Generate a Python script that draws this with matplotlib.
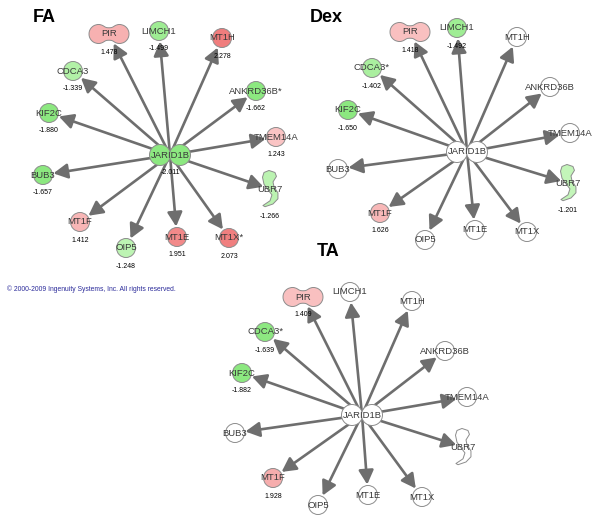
import numpy as np
import matplotlib
matplotlib.use('Agg')
import matplotlib.pyplot as plt
from matplotlib.patches import Circle, Polygon, FancyArrowPatch

# genes in every network, hub first
genes = ['JARID1B', 'PIR', 'LIMCH1', 'MT1H', 'CDCA3', 'ANKRD36B', 'KIF2C',
         'TMEM14A', 'BUB3', 'UBR7', 'MT1F', 'OIP5', 'MT1E', 'MT1X']

fa_labels = ['JARID1B', 'PIR', 'LIMCH1', 'MT1H', 'CDCA3', 'ANKRD36B*', 'KIF2C',
             'TMEM14A', 'BUB3', 'UBR7', 'MT1F', 'OIP5', 'MT1E', 'MT1X*']
fa_x = [170, 109, 159, 222, 73, 256, 49, 276, 43, 270, 80, 126, 177, 229]
fa_y = [155, 34, 31, 38, 71, 91, 113, 137, 175, 189, 222, 248, 237, 238]
fa_vals = [-2.011, 1.478, -1.499, 2.278, -1.339, -1.662, -1.880, 1.243,
           -1.657, -1.266, 1.412, -1.248, 1.951, 2.073]

dex_labels = ['JARID1B', 'PIR', 'LIMCH1', 'MT1H', 'CDCA3*', 'ANKRD36B', 'KIF2C',
              'TMEM14A', 'BUB3', 'UBR7', 'MT1F', 'OIP5', 'MT1E', 'MT1X']
dex_x = [467, 410, 457, 517, 372, 550, 348, 570, 338, 568, 380, 425, 475, 527]
dex_y = [152, 32, 28, 37, 68, 87, 110, 133, 169, 183, 213, 240, 230, 232]
dex_vals = [None, 1.418, -1.492, None, -1.402, None, -1.650, None,
            None, -1.201, 1.626, None, None, None]

ta_labels = dex_labels
ta_x = [362, 303, 350, 412, 265, 445, 242, 467, 235, 463, 273, 318, 368, 422]
ta_y = [415, 297, 292, 301, 332, 351, 373, 397, 433, 447, 478, 505, 495, 497]
ta_vals = [None, 1.409, None, None, -1.639, None, -1.882, None,
           None, None, 1.928, None, None, None]

R = 9.5
EDGE = '#8c8c8c'
ARROW = '#6e6e6e'
FONT = 'Liberation Sans'


def node_color(v, red_span):
    if v is None:
        return 'white'
    if v > 0:
        t = np.clip((v - 1.2) / red_span, 0, 1)
        lo, hi = np.array([250, 200, 200]), np.array([240, 125, 125])
    else:
        t = np.clip((-v - 1.2) / 0.45, 0, 1)
        lo, hi = np.array([195, 245, 185]), np.array([140, 232, 128])
    return tuple((lo + (hi - lo) * t) / 255.0)


def ubr7_shape(cx, cy, fc):
    pts = np.array([[-0.7, -15.7], [3.3, -14], [4.3, -10.7], [2, -6], [2.7, -1.7],
                    [5.3, 3.3], [5.3, 8.3], [2, 12.7], [-3.3, 15], [-4.7, 14],
                    [0, 10], [1.3, 5], [-1.3, 0.7], [-4, -4], [-5, -10], [-4, -14]])
    pts = pts * [1.5, 1.18] + [cx, cy]
    return Polygon(pts, closed=True, fc=fc, ec=EDGE, lw=0.7, zorder=3, joinstyle='round')


def pir_shape(cx, cy, fc):
    # peanut: two lobes joined by a narrow waist, kinks smoothed out
    xs = np.linspace(-20, 20, 321)
    lobe = np.sqrt(np.clip(R**2 - (np.abs(xs) - 10.5)**2, 0, None))
    waist = 6.2 + 0.035 * xs**2
    h = np.maximum(lobe, np.where(np.abs(xs) < 10.5, waist, 0))
    k = 25
    hp = np.pad(h, k // 2, mode='edge')
    hs = np.convolve(hp, np.ones(k) / k, mode='valid')
    mid = np.abs(xs) < 14
    h = np.where(mid, hs, h)
    top = np.column_stack([xs, -h])
    bot = np.column_stack([xs[::-1], h[::-1]])
    pts = np.vstack([top, bot]) + [cx, cy]
    return Polygon(pts, closed=True, fc=fc, ec=EDGE, lw=0.7, zorder=3)


def draw_network(ax, xs, ys, vals, labels, red_span):
    hx, hy = xs[0], ys[0]
    # arrows from hub to every target
    for g, x, y in zip(genes[1:], xs[1:], ys[1:]):
        d = np.array([x - hx, y - hy], float)
        d /= np.hypot(*d)
        shrink = 7 if g == 'UBR7' else 10.5
        end = (x - d[0] * shrink, y - d[1] * shrink)
        arr = FancyArrowPatch((hx, hy), end, arrowstyle='-|>,head_length=0.85,head_width=0.45',
                              mutation_scale=10, color=ARROW, lw=1.9, shrinkA=0, shrinkB=0,
                              zorder=2)
        ax.add_patch(arr)

    for g, x, y, v, lab in zip(genes, xs, ys, vals, labels):
        fc = node_color(v, red_span)
        voff = 18
        if g == 'JARID1B':
            for dx in (-10, 10):
                ax.add_patch(Circle((x + dx, y), 10.5, fc=fc, ec=EDGE, lw=0.7, zorder=3))
        elif g == 'PIR':
            ax.add_patch(pir_shape(x, y, fc))
        elif g == 'UBR7':
            ax.add_patch(ubr7_shape(x, y, fc))
            voff = 27
        else:
            ax.add_patch(Circle((x, y), R, fc=fc, ec=EDGE, lw=0.7, zorder=3))
        ax.text(x, y, lab, ha='center', va='center', fontsize=6.8, color='#3a3a3a',
                family=FONT, zorder=4)
        if v is not None:
            ax.text(x, y + voff, '%.3f' % v, ha='center', va='center', fontsize=5,
                    color='black', family=FONT, zorder=4)


fig = plt.figure(figsize=(6, 5.17), dpi=100)
ax = fig.add_axes([0, 0, 1, 1])
ax.set_xlim(0, 600)
ax.set_ylim(517, 0)
ax.axis('off')

draw_network(ax, fa_x, fa_y, fa_vals, fa_labels, 0.9)
draw_network(ax, dex_x, dex_y, dex_vals, dex_labels, 2.0)
draw_network(ax, ta_x, ta_y, ta_vals, ta_labels, 2.0)

ax.text(33, 17.5, 'FA', fontsize=13, fontweight='bold', family=FONT, va='center', ha='left')
ax.text(310, 18, 'Dex', fontsize=13, fontweight='bold', family=FONT, va='center', ha='left')
ax.text(317, 252, 'TA', fontsize=13, fontweight='bold', family=FONT, va='center', ha='left')

ax.text(7, 289, '\u00a9 2000-2009 Ingenuity Systems, Inc. All rights reserved.', fontsize=4.9,
        color='#2b2b9a', family=FONT, va='center', ha='left')

fig.savefig('out.png', dpi=100, facecolor='white')
